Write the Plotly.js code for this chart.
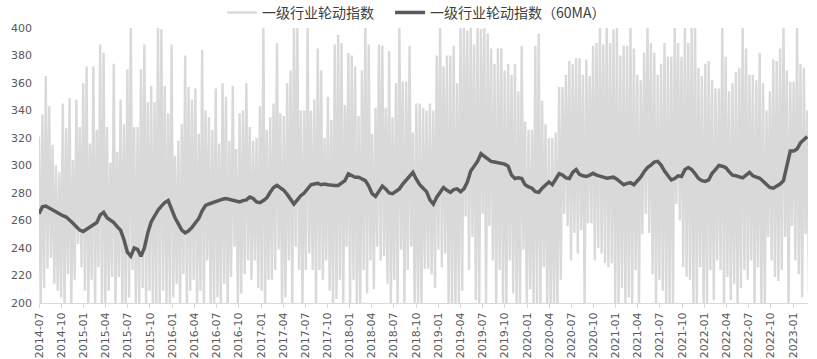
<!DOCTYPE html>
<html>
<head>
<meta charset="utf-8">
<script src="https://cdn.plot.ly/plotly-3.0.1.min.js"></script>
<style>html,body{margin:0;padding:0;background:#fff;}#chart{width:817px;height:359px;}</style>
</head>
<body>
<div id="chart"></div>
<script>
// Series names
const seriesRaw = '一级行业轮动指数';
const seriesMA = '一级行业轮动指数（60MA）';

// Raw index: weekly alternating peaks / troughs (from 2014-07)
const rawStart = '2014-07-01';
const rawStepDays = 7;
const rawPeaks = [
321,337,365,343,315,300,295,345,327,349,
304,348,328,360,372,316,372,326,388,382,
328,302,374,310,348,330,370,403,328,328,
370,388,346,358,346,403,399,358,338,388,
307,318,330,380,357,348,356,323,384,340,
335,326,356,316,360,350,318,358,312,338,
340,360,328,318,320,343,403,326,335,345,
389,338,336,360,369,403,403,340,340,403,
340,348,385,369,320,350,333,388,395,389,
344,382,380,372,336,369,403,388,323,342,
388,387,342,383,335,360,403,361,361,387,
324,345,345,342,340,345,340,380,403,372,
380,380,387,360,403,403,398,403,388,403,
399,403,396,385,374,385,385,369,374,366,
374,354,387,332,326,326,387,396,347,330,
320,320,324,357,357,366,376,374,378,378,
366,377,365,387,389,403,388,403,389,399,
403,380,387,387,403,385,366,362,382,403,
389,382,366,374,389,379,379,403,389,379,
403,389,403,403,371,365,374,376,362,356,
356,403,379,354,360,368,371,403,385,366,
366,362,382,360,340,354,377,376,385,403,
369,361,361,403,374,371,340
];
const rawTroughs = [
197,211,225,233,214,209,204,197,221,197,
217,243,226,209,197,217,197,226,197,197,
209,219,197,219,197,197,204,224,197,197,
211,197,209,197,197,197,209,197,197,204,
214,197,221,197,209,217,197,209,197,231,
197,197,204,197,214,197,219,241,197,207,
221,231,217,231,211,209,197,217,217,224,
239,197,204,231,197,241,224,197,224,236,
224,197,224,217,231,209,197,203,217,197,
241,197,217,197,197,224,207,231,210,241,
231,234,214,197,217,197,239,197,224,241,
197,197,197,225,225,221,211,239,226,236,
197,197,197,197,209,263,224,248,202,197,
265,197,256,231,197,224,197,197,231,207,
197,197,239,197,210,197,197,197,226,197,
197,197,197,217,265,256,231,251,236,253,
197,258,258,231,240,236,229,226,229,197,
197,211,197,204,197,224,197,250,265,251,
221,197,217,209,197,197,197,272,260,226,
219,217,197,197,226,197,197,224,202,231,
224,197,219,202,214,197,211,224,217,231,
197,226,197,197,248,231,219,216,224,248,
197,256,231,221,204,250,207
];

// 60-day moving average, fortnightly readings (from 2014-07)
const maStart = '2014-07-01';
const maStepDays = 14;
const ma60 = [
265,270,270.5,269,267.5,266.5,265,263.5,262.5,260.5,
258,255.5,253,252,253.5,255,256.5,258.5,264,266,
262,260,258.5,255.5,253,246,237,234,240,239,
234,240,251,259,263.5,267.5,270.5,273,274.5,268,
262,257.5,253,251,252.5,255,258,261.5,267,271,
272,273,274,275,275.5,276,275.5,275,274,273.5,
274.5,275,277,276,273.5,273,274.5,276.5,280.5,284,
285.5,284,282,279,275,272,275,278,280,283.5,
286,286.5,287,286,286.5,286,285.5,285.5,285.5,287,
289,294,293,291.5,291.5,290.5,289,285,279.5,277.5,
281,285,283,280,279.5,281,283,286.5,289.5,292,
295,290,286,283.5,281,275,272,277,281,284,
282,280.5,282.5,283,281,283,288,296,299.5,303,
308.5,306.5,304.5,303,302.5,302,301.5,301,299.5,293,
290.5,291,290.5,286,284.5,283.5,281,280.5,283.4,286,
288,286,290,294,293,291,290.5,295,297,293.5,
292.5,292,293,294.3,293,292,291.5,290.7,291,291.5,
290,288,286,287,287.5,286,288.5,291.5,295.5,298.5,
300.3,302.5,303,300.3,296,292.5,289.5,290.5,292.5,292,
297,298.5,297,294,290.5,289,288.5,289.5,294.3,297,
300,299.5,298.5,295.5,293,292.5,292,291,293,295,
292.5,291.5,290.7,288.5,286,284,283.5,285,286.5,289,
300,310.5,310.5,312,316.5,319,321
];

// Axis
const yTicks = [200,220,240,260,280,300,320,340,360,380,400];
const xRange = ['2014-07-01','2023-03-03'];

function dateSeq(start, stepDays, n) {
  const t0 = Date.parse(start + 'T00:00:00Z');
  const out = [];
  for (let i = 0; i < n; i++) out.push(new Date(t0 + i * stepDays * 86400000).toISOString().slice(0, 10));
  return out;
}

const rawValues = [];
for (let k = 0; k < rawPeaks.length; k++) { rawValues.push(rawPeaks[k]); rawValues.push(rawTroughs[k]); }
const rawDates = dateSeq(rawStart, rawStepDays, rawValues.length);
const maDates = dateSeq(maStart, maStepDays, ma60.length);

const tickFont = {family: 'DejaVu Sans, sans-serif', size: 11, color: '#595959'};
const legendFont = {family: 'Noto Sans CJK SC, sans-serif', size: 14, color: '#404040'};

const traces = [
  {x: rawDates, y: rawValues, type: 'scatter', mode: 'lines', name: seriesRaw,
   legend: 'legend', line: {color: '#d9d9d9', width: 2.4}},
  {x: maDates, y: ma60, type: 'scatter', mode: 'lines', name: seriesMA,
   legend: 'legend2', line: {color: '#5a5a5a', width: 3.5}}
];

const layout = {
  width: 817, height: 359,
  margin: {l: 39, r: 9, t: 28, b: 56, autoexpand: false},
  paper_bgcolor: '#ffffff', plot_bgcolor: '#ffffff',
  showlegend: true,
  legend: {orientation: 'h', x: 0.238, xanchor: 'left', y: 1.055, yanchor: 'middle',
           font: legendFont, bgcolor: 'rgba(0,0,0,0)'},
  legend2: {orientation: 'h', x: 0.4565, xanchor: 'left', y: 1.055, yanchor: 'middle',
           font: legendFont, bgcolor: 'rgba(0,0,0,0)'},
  xaxis: {type: 'date', range: xRange, tick0: '2014-07-01', dtick: 'M3', tickformat: '%Y-%m',
          tickangle: -90, tickfont: tickFont, showgrid: false, zeroline: false,
          showline: true, linecolor: '#d9d9d9', linewidth: 1,
          ticks: 'outside', ticklen: 4, tickcolor: '#d9d9d9'},
  yaxis: {range: [200, 400], tickvals: yTicks, tickfont: tickFont, showgrid: false,
          zeroline: false, showline: false, ticks: '', ticklabelstandoff: 6}
};

Plotly.newPlot('chart', traces, layout, {displayModeBar: false, staticPlot: true});
</script>
</body>
</html>
